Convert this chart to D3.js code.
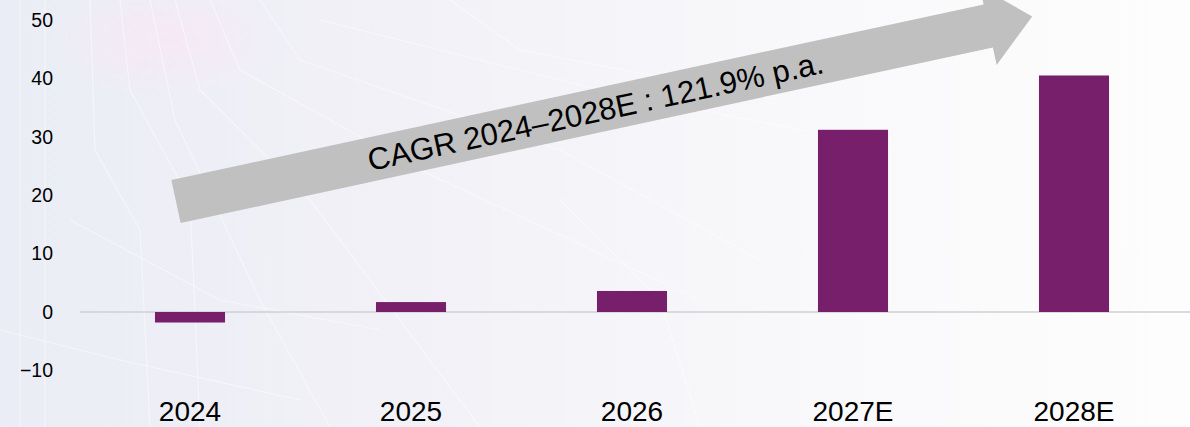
<!DOCTYPE html>
<html>
<head>
<meta charset="utf-8">
<script src="https://cdn.jsdelivr.net/npm/d3@7"></script>
<style>
  html, body { margin: 0; padding: 0; background: #fff; }
  svg { display: block; font-family: "Liberation Sans", Arial, Helvetica, sans-serif; }
</style>
</head>
<body>
<div id="chart"></div>
<script>
// data
const years = ['2024', '2025', '2026', '2027E', '2028E'];
const values = [-1.8, 1.7, 3.6, 31.2, 40.5];
const yTicks = [-10, 0, 10, 20, 30, 40, 50];
const cagrLabel = 'CAGR 2024\u20132028E : 121.9% p.a.';

const width = 1190, height = 427;

const svg = d3.select('#chart')
    .append('svg')
    .attr('width', width)
    .attr('height', height);

// background: pale circuit-board look
const defs = svg.append('defs');
const bg = defs.append('linearGradient').attr('id', 'bg')
    .attr('x1', 0).attr('x2', 1).attr('y1', 0).attr('y2', 0);
bg.append('stop').attr('offset', 0).attr('stop-color', '#eaedf5');
bg.append('stop').attr('offset', 0.35).attr('stop-color', '#f2f1f7');
bg.append('stop').attr('offset', 0.7).attr('stop-color', '#f9f9fb');
bg.append('stop').attr('offset', 1).attr('stop-color', '#fdfdfd');
const glow = defs.append('radialGradient').attr('id', 'glow');
glow.append('stop').attr('offset', 0).attr('stop-color', '#f7e8f6').attr('stop-opacity', 0.9);
glow.append('stop').attr('offset', 1).attr('stop-color', '#f7e8f6').attr('stop-opacity', 0);

svg.append('rect').attr('width', width).attr('height', height).attr('fill', 'url(#bg)');
svg.append('ellipse').attr('cx', 165).attr('cy', 40).attr('rx', 120).attr('ry', 60).attr('fill', 'url(#glow)');

// a few faint traces
const traces = [
    'M20,0 L20,427', 'M45,0 L45,427', 'M90,0 L95,150 L140,230 L150,427',
    'M120,0 L130,90 L190,200 L200,427', 'M150,0 L175,120 L260,300 L330,427',
    'M175,0 L200,90 L310,200 L480,427', 'M210,0 L240,70 L420,170 L700,300',
    'M260,0 L300,60 L560,150 L760,260', 'M320,20 L600,90 L900,150',
    'M70,220 L220,300 L380,330', 'M0,330 L120,360 L300,400',
    'M450,0 L520,50 L780,100', 'M560,200 L660,300 L700,427'
];
svg.append('g')
    .selectAll('path')
    .data(traces)
    .enter().append('path')
    .attr('d', d => d)
    .attr('fill', 'none')
    .attr('stroke', '#ffffff')
    .attr('stroke-opacity', 0.45)
    .attr('stroke-width', 1.2);

const x = d3.scaleBand()
    .domain(years)
    .range([79.5, 1184.5])
    .paddingInner(0.683)
    .paddingOuter(0.3415);

const y = d3.scaleLinear()
    .domain([-15, 50])
    .range([399.6, 20]);

// zero line
svg.append('line')
    .attr('x1', 80).attr('x2', width)
    .attr('y1', y(0)).attr('y2', y(0))
    .attr('stroke', '#cfcfd4')
    .attr('stroke-width', 1.5);

// bars
svg.append('g')
    .selectAll('rect')
    .data(years.map((c, i) => ({ c, v: values[i] })))
    .enter().append('rect')
    .attr('x', d => x(d.c))
    .attr('width', x.bandwidth())
    .attr('y', d => y(Math.max(0, d.v)))
    .attr('height', d => Math.abs(y(d.v) - y(0)))
    .attr('fill', '#781f6c');

// y axis labels
const yAxis = svg.append('g')
    .attr('transform', 'translate(56,0)')
    .call(d3.axisLeft(y).tickValues(yTicks).tickSize(0).tickPadding(3));
yAxis.select('.domain').remove();
yAxis.selectAll('text')
    .attr('font-size', 19.5)
    .attr('fill', '#000')
    .attr('font-family', '"Liberation Sans", Arial, sans-serif');

// x labels
svg.append('g')
    .selectAll('text')
    .data(years)
    .enter().append('text')
    .attr('x', d => x(d) + x.bandwidth() / 2)
    .attr('y', 421)
    .attr('text-anchor', 'middle')
    .attr('font-size', 28)
    .attr('fill', '#000')
    .text(d => d);

// CAGR arrow
const start = [176, 201.5];
const angle = -12.2;
const shaftLen = 831, headLen = 45, halfShaft = 22, halfHead = 40;
const arrow = svg.append('g')
    .attr('transform', `translate(${start[0]},${start[1]}) rotate(${angle})`);
arrow.append('path')
    .attr('d', d3.line()([
        [0, -halfShaft], [shaftLen, -halfShaft], [shaftLen, -halfHead],
        [shaftLen + headLen, 0], [shaftLen, halfHead], [shaftLen, halfShaft], [0, halfShaft]
    ]) + 'Z')
    .attr('fill', '#c0c0c0');
arrow.append('text')
    .attr('x', 429)
    .attr('y', 0)
    .attr('dy', '0.36em')
    .attr('text-anchor', 'middle')
    .attr('font-size', 31)
    .attr('fill', '#000')
    .text(cagrLabel);
</script>
</body>
</html>
